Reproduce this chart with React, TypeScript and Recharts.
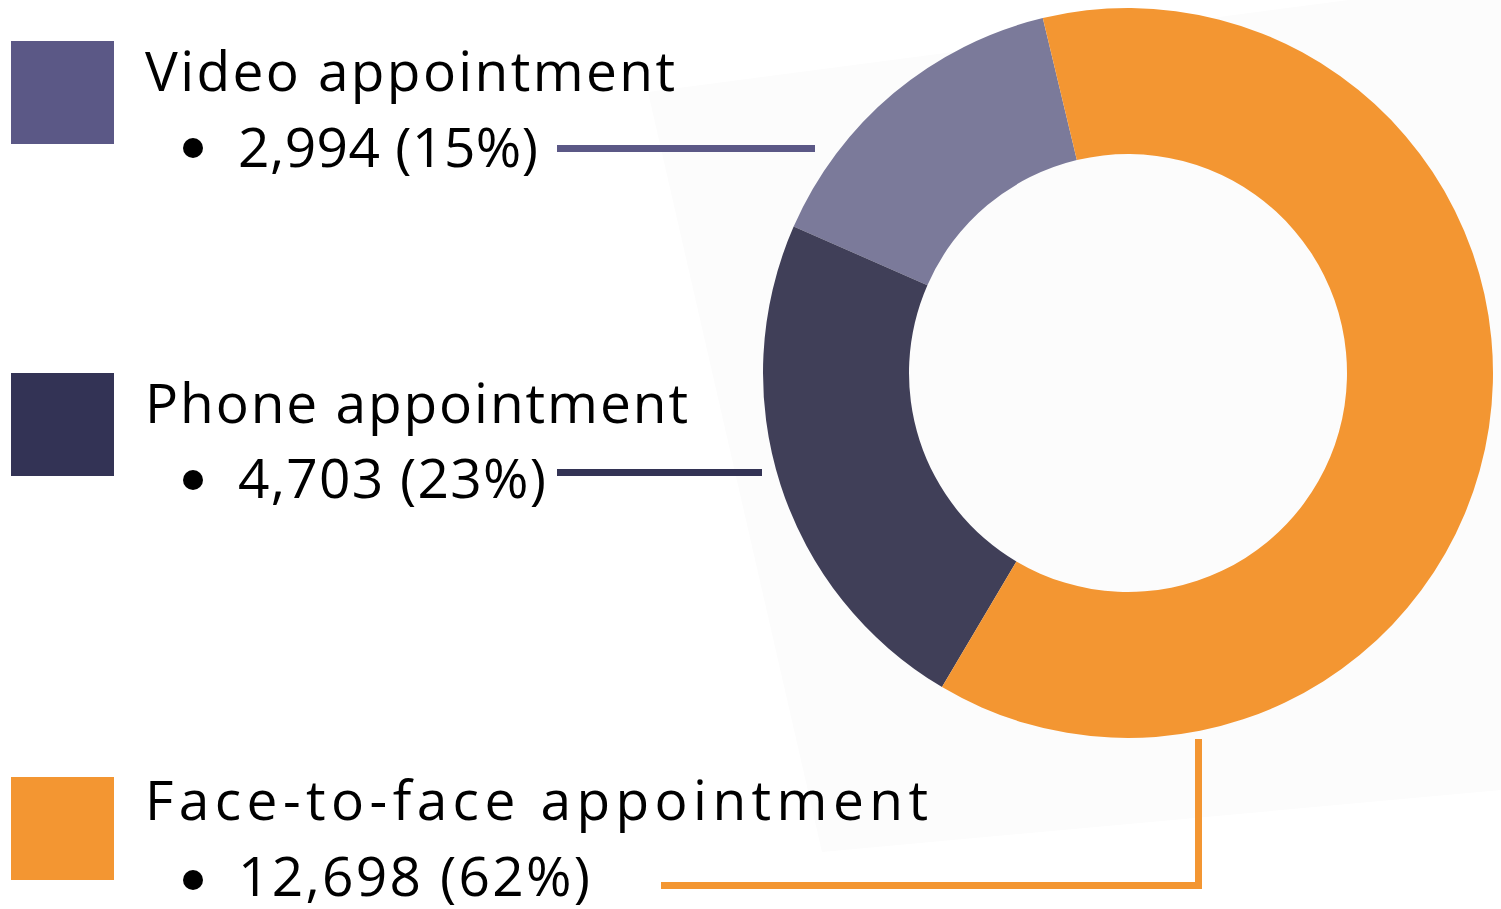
import React from 'react';
import { PieChart, Pie, Cell } from 'recharts';

const labels = ['Video appointment', 'Phone appointment', 'Face-to-face appointment'];
const values = [2994, 4703, 12698];
const sliceColors = ['#7b7a9a', '#403f58', '#f39632'];
const keyColors = ['#5b5886', '#333355', '#f39632'];

const total = values.reduce((a, b) => a + b, 0);
const data = labels.map((name, i) => ({ name, value: values[i] }));

// legend layout (title baseline, value baseline, square top)
const rows = [
  { sq: 41, title: 91, val: 167, dot: 148, titleW: 530, valW: 300 },
  { sq: 373, title: 423, val: 498, dot: 480, titleW: 543, valW: 308 },
  { sq: 777, title: 820, val: 896, dot: 880, titleW: 783, valW: 352 },
];

const fmt = (v: number) => `${v.toLocaleString('en-US')} (${Math.round((v / total) * 100)}%)`;

export default function App() {
  return (
    <div style={{ position: 'absolute', left: 0, top: 0, width: 1501, height: 909, background: '#fff', overflow: 'hidden' }}>
      <svg width={1501} height={909} style={{ position: 'absolute', left: 0, top: 0 }}>
        <polygon points="648,92 1501,-20 1501,790 822,852" fill="#fcfcfc" />
      </svg>
      <div style={{ position: 'absolute', left: 0, top: 0 }}>
        <PieChart width={1501} height={909} margin={{ top: 0, right: 0, bottom: 0, left: 0 }}>
          <Pie
            data={data}
            dataKey="value"
            cx={1128}
            cy={373}
            innerRadius={219}
            outerRadius={365}
            startAngle={103.5}
            endAngle={463.5}
            stroke="none"
            isAnimationActive={false}
          >
            {data.map((d, i) => (
              <Cell key={d.name} fill={sliceColors[i]} />
            ))}
          </Pie>
        </PieChart>
      </div>
      <svg width={1501} height={909} style={{ position: 'absolute', left: 0, top: 0, pointerEvents: 'none' }}>
        {rows.map((r, i) => (
          <g key={i} fontFamily="'Open Sans', sans-serif" fontSize={55} fill="#000">
            <rect x={11} y={r.sq} width={103} height={103} fill={keyColors[i]} />
            <text x={145} y={r.title} textLength={r.titleW}>{labels[i]}</text>
            <circle cx={193} cy={r.dot} r={10} fill="#000" />
            <text x={238} y={r.val} textLength={r.valW}>{fmt(values[i])}</text>
          </g>
        ))}
        <line x1={557} y1={148.5} x2={815} y2={148.5} stroke={keyColors[0]} strokeWidth={7} />
        <line x1={557} y1={472.5} x2={762} y2={472.5} stroke={keyColors[1]} strokeWidth={7} />
        <polyline
          points="661,885.5 1198.5,885.5 1198.5,739"
          fill="none"
          stroke={keyColors[2]}
          strokeWidth={7}
        />
      </svg>
    </div>
  );
}
